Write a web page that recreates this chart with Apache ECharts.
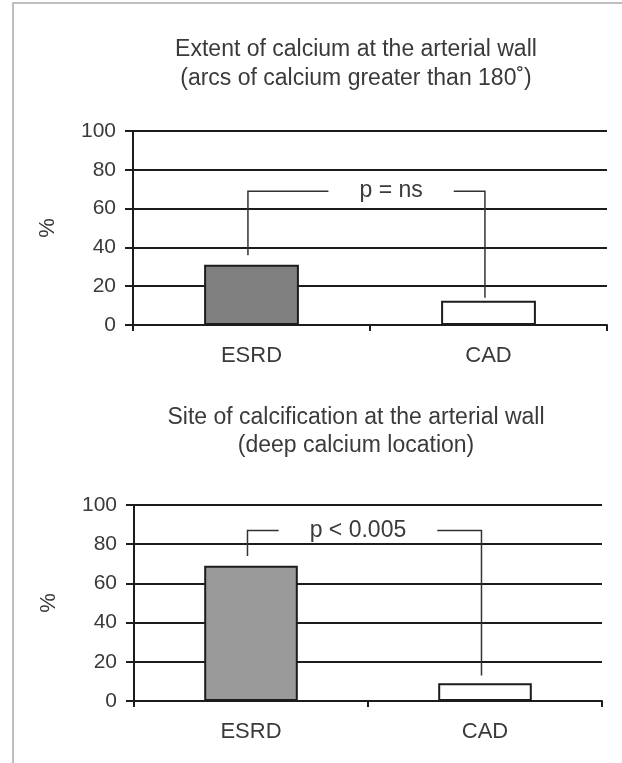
<!DOCTYPE html>
<html>
<head>
<meta charset="utf-8">
<title>Calcium at the arterial wall</title>
<script src="https://cdn.jsdelivr.net/npm/echarts@6/dist/echarts.min.js"></script>
<style>
	html, body { margin: 0; padding: 0; background: #fff; }
	#chart { width: 622px; height: 763px; }
</style>
</head>
<body>
<div id="chart"></div>
<script>
	var categories = ['ESRD', 'CAD']
	var extentValues = [31, 12.5]
	var siteValues = [69, 9]
	var yTicks = [0, 20, 40, 60, 80, 100]
	// bracket: left foot, top bar, right foot (in %)
	var extentBracket = [36, 69, 14]
	var siteBracket = [74, 87, 13]
	var extentLabel = 'p = ns'
	var siteLabel = 'p < 0.005'
	var extentTitle = 'Extent of calcium at the arterial wall\n(arcs of calcium greater than 180˚)'
	var siteTitle = 'Site of calcification at the arterial wall\n(deep calcium location)'

	var FONT = '"Liberation Sans", Arial, sans-serif'
	var TEXT = '#3a3a3a'
	var INK = '#1c1c1c'
	var esrdFill = ['#808080', '#9a9a9a']

	function yAxis(idx) {
		return {
			gridIndex: idx,
			type: 'value',
			min: yTicks[0],
			max: yTicks[yTicks.length - 1],
			interval: yTicks[1] - yTicks[0],
			name: '%',
			nameLocation: 'middle',
			nameGap: 74,
			nameTextStyle: { fontFamily: FONT, fontSize: 22, color: TEXT },
			axisLine: { show: true, lineStyle: { color: INK, width: 2 } },
			axisTick: { show: true, length: 8, lineStyle: { color: INK, width: 2 } },
			axisLabel: { margin: 17, fontFamily: FONT, fontSize: 21, color: TEXT },
			splitLine: { show: true, lineStyle: { color: INK, width: 2 } }
		}
	}

	function xAxis(idx) {
		return {
			gridIndex: idx,
			type: 'category',
			data: categories,
			axisLine: { show: true, lineStyle: { color: INK, width: 2 } },
			axisTick: { show: true, length: 6, lineStyle: { color: INK, width: 2 } },
			axisLabel: { margin: 20, fontFamily: FONT, fontSize: 22, color: TEXT }
		}
	}

	function barSeries(idx, values) {
		return {
			type: 'bar',
			xAxisIndex: idx,
			yAxisIndex: idx,
			data: values,
			barWidth: '40%',
			itemStyle: {
				color: function (p) { return p.dataIndex === 0 ? esrdFill[idx] : '#fff' },
				borderColor: INK,
				borderWidth: 2
			}
		}
	}

	// bracket drawn through the axes' own scales
	function bracketSeries(idx, b, label, labelShift) {
		return {
			type: 'custom',
			xAxisIndex: idx,
			yAxisIndex: idx,
			z: 5,
			clip: false,
			silent: true,
			data: [[0, 1, b[0], b[1], b[2]]],
			encode: { x: [0, 1], y: [2, 3, 4] },
			renderItem: function (params, api) {
				var band = api.size([1, 0])[0]
				var off = -0.015 * band
				var lb = api.coord([api.value(0), api.value(2)])
				var lt = api.coord([api.value(0), api.value(3)])
				var rt = api.coord([api.value(1), api.value(3)])
				var rb = api.coord([api.value(1), api.value(4)])
				return {
					type: 'group',
					children: [{
						type: 'polyline',
						shape: { points: [[lb[0] + off, lb[1]], [lt[0] + off, lt[1]], [rt[0] + off, rt[1]], [rb[0] + off, rb[1]]] },
						style: { stroke: '#333', lineWidth: 1.5, fill: null }
					}, {
						type: 'text',
						x: lt[0] + labelShift * band,
						y: lt[1],
						style: {
							text: label,
							fill: TEXT,
							fontFamily: FONT,
							fontSize: 23,
							align: 'center',
							verticalAlign: 'middle',
							backgroundColor: '#fff',
							padding: [0, 31]
						}
					}]
				}
			}
		}
	}

	var chart = echarts.init(document.getElementById('chart'))
	var option = {
		animation: false,
		backgroundColor: '#fff',
		grid: [
			{ left: 133, right: 15, top: 131, height: 194 },
			{ left: 134, right: 20, top: 505, height: 196 }
		],
		xAxis: [xAxis(0), xAxis(1)],
		yAxis: [yAxis(0), yAxis(1)],
		series: [
			barSeries(0, extentValues),
			barSeries(1, siteValues),
			bracketSeries(0, extentBracket, extentLabel, 0.589),
			bracketSeries(1, siteBracket, siteLabel, 0.457)
		],
		graphic: [{
			type: 'polyline',
			shape: { points: [[13, 763], [13, 3], [622, 3]] },
			style: { stroke: '#aaa', lineWidth: 1.5, fill: null }
		}, {
			type: 'text',
			x: 356,
			y: 35,
			style: { text: extentTitle, fill: TEXT, fontFamily: FONT, fontSize: 23, lineHeight: 29, align: 'center' }
		}, {
			type: 'text',
			x: 356,
			y: 404,
			style: { text: siteTitle, fill: TEXT, fontFamily: FONT, fontSize: 23, lineHeight: 28, align: 'center' }
		}]
	}
	chart.setOption(option)
</script>
</body>
</html>
